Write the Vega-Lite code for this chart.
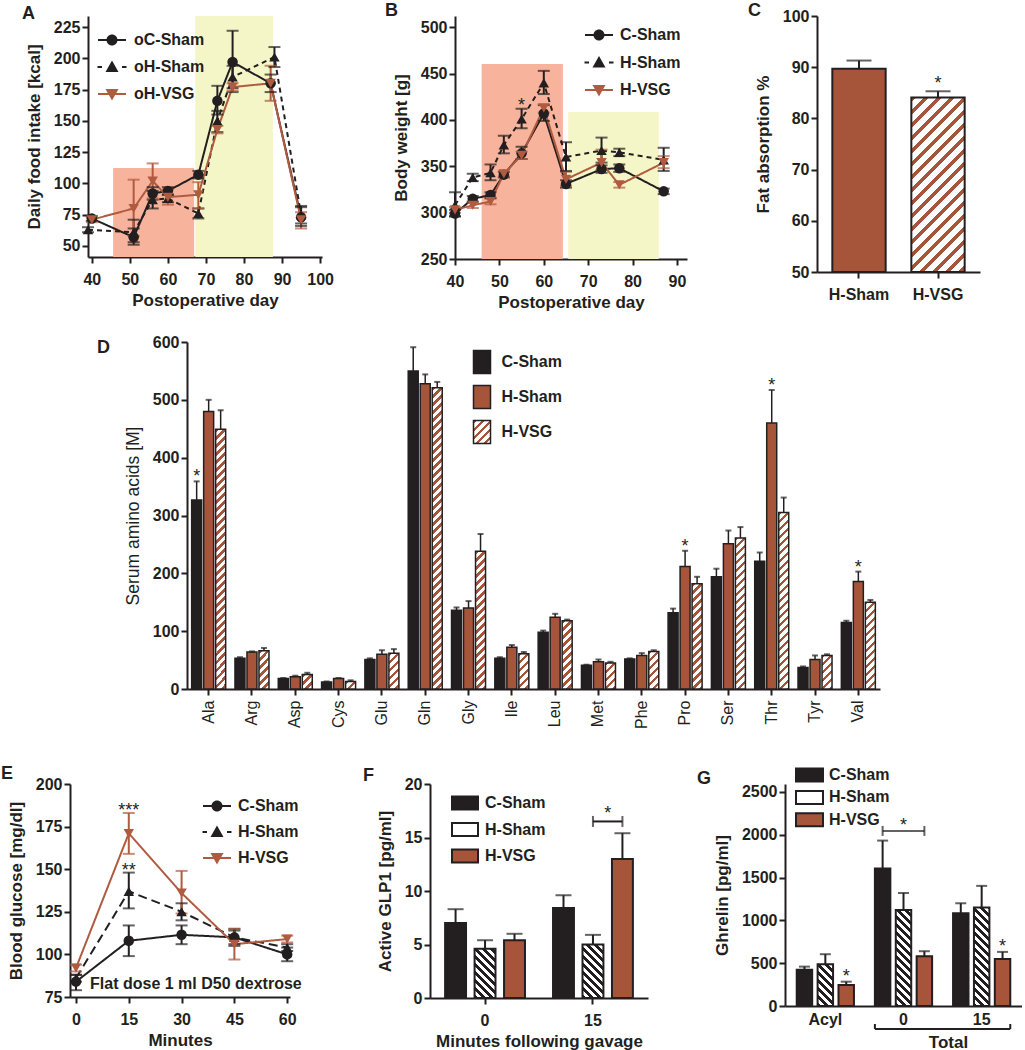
{
"$schema": "https://vega.github.io/schema/vega-lite/v6.json",
"background": "white",
"padding": {"left": 0, "top": 2, "right": 0, "bottom": 0},
"spacing": 10,
"resolve": {"scale": {"color": "independent", "shape": "independent", "strokeDash": "independent", "xOffset": "independent"}, "legend": {"color": "independent"}},
"params": [
{"name": "hatchBrown", "value": [
{"offset":0,"color":"#a6553b"},{"offset":0.01,"color":"#a6553b"},{"offset":0.01,"color":"#fff"},{"offset":0.025,"color":"#fff"},
{"offset":0.025,"color":"#a6553b"},{"offset":0.035,"color":"#a6553b"},{"offset":0.035,"color":"#fff"},{"offset":0.05,"color":"#fff"},
{"offset":0.05,"color":"#a6553b"},{"offset":0.06,"color":"#a6553b"},{"offset":0.06,"color":"#fff"},{"offset":0.075,"color":"#fff"},
{"offset":0.075,"color":"#a6553b"},{"offset":0.085,"color":"#a6553b"},{"offset":0.085,"color":"#fff"},{"offset":0.1,"color":"#fff"},
{"offset":0.1,"color":"#a6553b"},{"offset":0.11,"color":"#a6553b"},{"offset":0.11,"color":"#fff"},{"offset":0.125,"color":"#fff"},
{"offset":0.125,"color":"#a6553b"},{"offset":0.135,"color":"#a6553b"},{"offset":0.135,"color":"#fff"},{"offset":0.15,"color":"#fff"},
{"offset":0.15,"color":"#a6553b"},{"offset":0.16,"color":"#a6553b"},{"offset":0.16,"color":"#fff"},{"offset":0.175,"color":"#fff"},
{"offset":0.175,"color":"#a6553b"},{"offset":0.185,"color":"#a6553b"},{"offset":0.185,"color":"#fff"},{"offset":0.2,"color":"#fff"},
{"offset":0.2,"color":"#a6553b"},{"offset":0.21,"color":"#a6553b"},{"offset":0.21,"color":"#fff"},{"offset":0.225,"color":"#fff"},
{"offset":0.225,"color":"#a6553b"},{"offset":0.235,"color":"#a6553b"},{"offset":0.235,"color":"#fff"},{"offset":0.25,"color":"#fff"},
{"offset":0.25,"color":"#a6553b"},{"offset":0.26,"color":"#a6553b"},{"offset":0.26,"color":"#fff"},{"offset":0.275,"color":"#fff"},
{"offset":0.275,"color":"#a6553b"},{"offset":0.285,"color":"#a6553b"},{"offset":0.285,"color":"#fff"},{"offset":0.3,"color":"#fff"},
{"offset":0.3,"color":"#a6553b"},{"offset":0.31,"color":"#a6553b"},{"offset":0.31,"color":"#fff"},{"offset":0.325,"color":"#fff"},
{"offset":0.325,"color":"#a6553b"},{"offset":0.335,"color":"#a6553b"},{"offset":0.335,"color":"#fff"},{"offset":0.35,"color":"#fff"},
{"offset":0.35,"color":"#a6553b"},{"offset":0.36,"color":"#a6553b"},{"offset":0.36,"color":"#fff"},{"offset":0.375,"color":"#fff"},
{"offset":0.375,"color":"#a6553b"},{"offset":0.385,"color":"#a6553b"},{"offset":0.385,"color":"#fff"},{"offset":0.4,"color":"#fff"},
{"offset":0.4,"color":"#a6553b"},{"offset":0.41,"color":"#a6553b"},{"offset":0.41,"color":"#fff"},{"offset":0.425,"color":"#fff"},
{"offset":0.425,"color":"#a6553b"},{"offset":0.435,"color":"#a6553b"},{"offset":0.435,"color":"#fff"},{"offset":0.45,"color":"#fff"},
{"offset":0.45,"color":"#a6553b"},{"offset":0.46,"color":"#a6553b"},{"offset":0.46,"color":"#fff"},{"offset":0.475,"color":"#fff"},
{"offset":0.475,"color":"#a6553b"},{"offset":0.485,"color":"#a6553b"},{"offset":0.485,"color":"#fff"},{"offset":0.5,"color":"#fff"},
{"offset":0.5,"color":"#a6553b"},{"offset":0.51,"color":"#a6553b"},{"offset":0.51,"color":"#fff"},{"offset":0.525,"color":"#fff"},
{"offset":0.525,"color":"#a6553b"},{"offset":0.535,"color":"#a6553b"},{"offset":0.535,"color":"#fff"},{"offset":0.55,"color":"#fff"},
{"offset":0.55,"color":"#a6553b"},{"offset":0.56,"color":"#a6553b"},{"offset":0.56,"color":"#fff"},{"offset":0.575,"color":"#fff"},
{"offset":0.575,"color":"#a6553b"},{"offset":0.585,"color":"#a6553b"},{"offset":0.585,"color":"#fff"},{"offset":0.6,"color":"#fff"},
{"offset":0.6,"color":"#a6553b"},{"offset":0.61,"color":"#a6553b"},{"offset":0.61,"color":"#fff"},{"offset":0.625,"color":"#fff"},
{"offset":0.625,"color":"#a6553b"},{"offset":0.635,"color":"#a6553b"},{"offset":0.635,"color":"#fff"},{"offset":0.65,"color":"#fff"},
{"offset":0.65,"color":"#a6553b"},{"offset":0.66,"color":"#a6553b"},{"offset":0.66,"color":"#fff"},{"offset":0.675,"color":"#fff"},
{"offset":0.675,"color":"#a6553b"},{"offset":0.685,"color":"#a6553b"},{"offset":0.685,"color":"#fff"},{"offset":0.7,"color":"#fff"},
{"offset":0.7,"color":"#a6553b"},{"offset":0.71,"color":"#a6553b"},{"offset":0.71,"color":"#fff"},{"offset":0.725,"color":"#fff"},
{"offset":0.725,"color":"#a6553b"},{"offset":0.735,"color":"#a6553b"},{"offset":0.735,"color":"#fff"},{"offset":0.75,"color":"#fff"},
{"offset":0.75,"color":"#a6553b"},{"offset":0.76,"color":"#a6553b"},{"offset":0.76,"color":"#fff"},{"offset":0.775,"color":"#fff"},
{"offset":0.775,"color":"#a6553b"},{"offset":0.785,"color":"#a6553b"},{"offset":0.785,"color":"#fff"},{"offset":0.8,"color":"#fff"},
{"offset":0.8,"color":"#a6553b"},{"offset":0.81,"color":"#a6553b"},{"offset":0.81,"color":"#fff"},{"offset":0.825,"color":"#fff"},
{"offset":0.825,"color":"#a6553b"},{"offset":0.835,"color":"#a6553b"},{"offset":0.835,"color":"#fff"},{"offset":0.85,"color":"#fff"},
{"offset":0.85,"color":"#a6553b"},{"offset":0.86,"color":"#a6553b"},{"offset":0.86,"color":"#fff"},{"offset":0.875,"color":"#fff"},
{"offset":0.875,"color":"#a6553b"},{"offset":0.885,"color":"#a6553b"},{"offset":0.885,"color":"#fff"},{"offset":0.9,"color":"#fff"},
{"offset":0.9,"color":"#a6553b"},{"offset":0.91,"color":"#a6553b"},{"offset":0.91,"color":"#fff"},{"offset":0.925,"color":"#fff"},
{"offset":0.925,"color":"#a6553b"},{"offset":0.935,"color":"#a6553b"},{"offset":0.935,"color":"#fff"},{"offset":0.95,"color":"#fff"},
{"offset":0.95,"color":"#a6553b"},{"offset":0.96,"color":"#a6553b"},{"offset":0.96,"color":"#fff"},{"offset":0.975,"color":"#fff"},
{"offset":0.975,"color":"#a6553b"},{"offset":0.985,"color":"#a6553b"},{"offset":0.985,"color":"#fff"},{"offset":1,"color":"#fff"}
]},
{"name": "hatchBlack", "value": [
{"offset":0,"color":"#231f20"},{"offset":0.022,"color":"#231f20"},{"offset":0.022,"color":"#fff"},{"offset":0.05,"color":"#fff"},
{"offset":0.05,"color":"#231f20"},{"offset":0.072,"color":"#231f20"},{"offset":0.072,"color":"#fff"},{"offset":0.1,"color":"#fff"},
{"offset":0.1,"color":"#231f20"},{"offset":0.122,"color":"#231f20"},{"offset":0.122,"color":"#fff"},{"offset":0.15,"color":"#fff"},
{"offset":0.15,"color":"#231f20"},{"offset":0.172,"color":"#231f20"},{"offset":0.172,"color":"#fff"},{"offset":0.2,"color":"#fff"},
{"offset":0.2,"color":"#231f20"},{"offset":0.222,"color":"#231f20"},{"offset":0.222,"color":"#fff"},{"offset":0.25,"color":"#fff"},
{"offset":0.25,"color":"#231f20"},{"offset":0.272,"color":"#231f20"},{"offset":0.272,"color":"#fff"},{"offset":0.3,"color":"#fff"},
{"offset":0.3,"color":"#231f20"},{"offset":0.322,"color":"#231f20"},{"offset":0.322,"color":"#fff"},{"offset":0.35,"color":"#fff"},
{"offset":0.35,"color":"#231f20"},{"offset":0.372,"color":"#231f20"},{"offset":0.372,"color":"#fff"},{"offset":0.4,"color":"#fff"},
{"offset":0.4,"color":"#231f20"},{"offset":0.422,"color":"#231f20"},{"offset":0.422,"color":"#fff"},{"offset":0.45,"color":"#fff"},
{"offset":0.45,"color":"#231f20"},{"offset":0.472,"color":"#231f20"},{"offset":0.472,"color":"#fff"},{"offset":0.5,"color":"#fff"},
{"offset":0.5,"color":"#231f20"},{"offset":0.522,"color":"#231f20"},{"offset":0.522,"color":"#fff"},{"offset":0.55,"color":"#fff"},
{"offset":0.55,"color":"#231f20"},{"offset":0.572,"color":"#231f20"},{"offset":0.572,"color":"#fff"},{"offset":0.6,"color":"#fff"},
{"offset":0.6,"color":"#231f20"},{"offset":0.622,"color":"#231f20"},{"offset":0.622,"color":"#fff"},{"offset":0.65,"color":"#fff"},
{"offset":0.65,"color":"#231f20"},{"offset":0.672,"color":"#231f20"},{"offset":0.672,"color":"#fff"},{"offset":0.7,"color":"#fff"},
{"offset":0.7,"color":"#231f20"},{"offset":0.722,"color":"#231f20"},{"offset":0.722,"color":"#fff"},{"offset":0.75,"color":"#fff"},
{"offset":0.75,"color":"#231f20"},{"offset":0.772,"color":"#231f20"},{"offset":0.772,"color":"#fff"},{"offset":0.8,"color":"#fff"},
{"offset":0.8,"color":"#231f20"},{"offset":0.822,"color":"#231f20"},{"offset":0.822,"color":"#fff"},{"offset":0.85,"color":"#fff"},
{"offset":0.85,"color":"#231f20"},{"offset":0.872,"color":"#231f20"},{"offset":0.872,"color":"#fff"},{"offset":0.9,"color":"#fff"},
{"offset":0.9,"color":"#231f20"},{"offset":0.922,"color":"#231f20"},{"offset":0.922,"color":"#fff"},{"offset":0.95,"color":"#fff"},
{"offset":0.95,"color":"#231f20"},{"offset":0.972,"color":"#231f20"},{"offset":0.972,"color":"#fff"},{"offset":1,"color":"#fff"}
]}
],
"datasets": {
"phasesA": [
{"start":45.6,"end":66.9,"top":112.3,"phase":"early"},
{"start":67.2,"end":87.6,"top":233.8,"phase":"late"}
],
"foodIntake": [
{"day":40,"group":"oC-Sham","mean":72,"lo":70,"hi":74},
{"day":51,"group":"oC-Sham","mean":57,"lo":51,"hi":64},
{"day":56,"group":"oC-Sham","mean":92,"lo":87,"hi":97},
{"day":60,"group":"oC-Sham","mean":94,"lo":91,"hi":97},
{"day":68,"group":"oC-Sham","mean":107,"lo":104,"hi":110},
{"day":73,"group":"oC-Sham","mean":166,"lo":155,"hi":178},
{"day":77,"group":"oC-Sham","mean":197,"lo":173,"hi":222},
{"day":87,"group":"oC-Sham","mean":180,"lo":173,"hi":187},
{"day":95,"group":"oC-Sham","mean":73,"lo":66,"hi":81},
{"day":39,"group":"oH-Sham","mean":63,"lo":61,"hi":65},
{"day":51,"group":"oH-Sham","mean":61,"lo":53,"hi":71},
{"day":56,"group":"oH-Sham","mean":87,"lo":80,"hi":94},
{"day":60,"group":"oH-Sham","mean":88,"lo":85,"hi":91},
{"day":68,"group":"oH-Sham","mean":76,"lo":72,"hi":80},
{"day":73,"group":"oH-Sham","mean":150,"lo":141,"hi":158},
{"day":77,"group":"oH-Sham","mean":185,"lo":176,"hi":194},
{"day":88,"group":"oH-Sham","mean":201,"lo":193,"hi":209},
{"day":95,"group":"oH-Sham","mean":75,"lo":68,"hi":82},
{"day":40,"group":"oH-VSG","mean":71,"lo":69,"hi":73},
{"day":51,"group":"oH-VSG","mean":80,"lo":58,"hi":103},
{"day":56,"group":"oH-VSG","mean":102,"lo":88,"hi":116},
{"day":60,"group":"oH-VSG","mean":89,"lo":83,"hi":95},
{"day":68,"group":"oH-VSG","mean":91,"lo":80,"hi":101},
{"day":73,"group":"oH-VSG","mean":143,"lo":140,"hi":146},
{"day":77,"group":"oH-VSG","mean":177,"lo":174,"hi":180},
{"day":87,"group":"oH-VSG","mean":180,"lo":166,"hi":194},
{"day":95,"group":"oH-VSG","mean":71,"lo":64,"hi":77}
],
"phasesB": [
{"start":46,"end":64.3,"top":460.4,"phase":"early"},
{"start":65.5,"end":85.9,"top":408.6,"phase":"late"}
],
"bodyWeight": [
{"day":40,"group":"C-Sham","mean":299,"lo":296,"hi":303},
{"day":44,"group":"C-Sham","mean":315,"lo":312,"hi":318},
{"day":48,"group":"C-Sham","mean":319,"lo":316,"hi":322},
{"day":51,"group":"C-Sham","mean":341,"lo":338,"hi":344},
{"day":55,"group":"C-Sham","mean":364,"lo":358,"hi":371},
{"day":60,"group":"C-Sham","mean":407,"lo":399,"hi":416},
{"day":65,"group":"C-Sham","mean":331,"lo":327,"hi":335},
{"day":73,"group":"C-Sham","mean":347,"lo":343,"hi":351},
{"day":77,"group":"C-Sham","mean":348,"lo":344,"hi":352},
{"day":87,"group":"C-Sham","mean":323,"lo":320,"hi":326},
{"day":40,"group":"H-Sham","mean":308,"lo":296,"hi":322},
{"day":44,"group":"H-Sham","mean":338,"lo":334,"hi":342},
{"day":48,"group":"H-Sham","mean":343,"lo":335,"hi":352},
{"day":51,"group":"H-Sham","mean":373,"lo":364,"hi":383},
{"day":55,"group":"H-Sham","mean":401,"lo":391,"hi":412,"star":"*"},
{"day":60,"group":"H-Sham","mean":440,"lo":428,"hi":453},
{"day":65,"group":"H-Sham","mean":360,"lo":345,"hi":376},
{"day":73,"group":"H-Sham","mean":367,"lo":354,"hi":381},
{"day":77,"group":"H-Sham","mean":365,"lo":361,"hi":369},
{"day":87,"group":"H-Sham","mean":357,"lo":345,"hi":370},
{"day":40,"group":"H-VSG","mean":303,"lo":300,"hi":306},
{"day":44,"group":"H-VSG","mean":308,"lo":305,"hi":311},
{"day":48,"group":"H-VSG","mean":312,"lo":309,"hi":315},
{"day":51,"group":"H-VSG","mean":342,"lo":339,"hi":345},
{"day":55,"group":"H-VSG","mean":362,"lo":358,"hi":366},
{"day":60,"group":"H-VSG","mean":413,"lo":408,"hi":417},
{"day":65,"group":"H-VSG","mean":336,"lo":329,"hi":344},
{"day":73,"group":"H-VSG","mean":354,"lo":346,"hi":368},
{"day":77,"group":"H-VSG","mean":330,"lo":327,"hi":333},
{"day":87,"group":"H-VSG","mean":354,"lo":348,"hi":361}
],
"fat": [
{"group":"H-Sham","mean":89.7,"hi":91.3},
{"group":"H-VSG","mean":84.1,"hi":85.3,"star":"*"}
],
"amino": [
{"aa":"Ala","group":"C-Sham","mean":327,"hi":359,"star":"*"},{"aa":"Ala","group":"H-Sham","mean":480,"hi":500},{"aa":"Ala","group":"H-VSG","mean":449,"hi":482},
{"aa":"Arg","group":"C-Sham","mean":53,"hi":55},{"aa":"Arg","group":"H-Sham","mean":64,"hi":65},{"aa":"Arg","group":"H-VSG","mean":66,"hi":71},
{"aa":"Asp","group":"C-Sham","mean":18,"hi":19},{"aa":"Asp","group":"H-Sham","mean":21,"hi":23},{"aa":"Asp","group":"H-VSG","mean":25,"hi":28},
{"aa":"Cys","group":"C-Sham","mean":12,"hi":13},{"aa":"Cys","group":"H-Sham","mean":18,"hi":19},{"aa":"Cys","group":"H-VSG","mean":13,"hi":15},
{"aa":"Glu","group":"C-Sham","mean":51,"hi":53},{"aa":"Glu","group":"H-Sham","mean":60,"hi":67},{"aa":"Glu","group":"H-VSG","mean":62,"hi":69},
{"aa":"Gln","group":"C-Sham","mean":550,"hi":591},{"aa":"Gln","group":"H-Sham","mean":528,"hi":544},{"aa":"Gln","group":"H-VSG","mean":521,"hi":531},
{"aa":"Gly","group":"C-Sham","mean":136,"hi":141},{"aa":"Gly","group":"H-Sham","mean":140,"hi":152},{"aa":"Gly","group":"H-VSG","mean":238,"hi":268},
{"aa":"Ile","group":"C-Sham","mean":53,"hi":55},{"aa":"Ile","group":"H-Sham","mean":72,"hi":76},{"aa":"Ile","group":"H-VSG","mean":61,"hi":64},
{"aa":"Leu","group":"C-Sham","mean":98,"hi":101},{"aa":"Leu","group":"H-Sham","mean":124,"hi":130},{"aa":"Leu","group":"H-VSG","mean":118,"hi":120},
{"aa":"Met","group":"C-Sham","mean":41,"hi":42},{"aa":"Met","group":"H-Sham","mean":47,"hi":51},{"aa":"Met","group":"H-VSG","mean":45,"hi":47},
{"aa":"Phe","group":"C-Sham","mean":52,"hi":53},{"aa":"Phe","group":"H-Sham","mean":58,"hi":62},{"aa":"Phe","group":"H-VSG","mean":65,"hi":67},
{"aa":"Pro","group":"C-Sham","mean":132,"hi":139},{"aa":"Pro","group":"H-Sham","mean":212,"hi":239,"star":"*"},{"aa":"Pro","group":"H-VSG","mean":182,"hi":194},
{"aa":"Ser","group":"C-Sham","mean":194,"hi":208},{"aa":"Ser","group":"H-Sham","mean":251,"hi":274},{"aa":"Ser","group":"H-VSG","mean":261,"hi":280},
{"aa":"Thr","group":"C-Sham","mean":221,"hi":236},{"aa":"Thr","group":"H-Sham","mean":460,"hi":517,"star":"*"},{"aa":"Thr","group":"H-VSG","mean":305,"hi":331},
{"aa":"Tyr","group":"C-Sham","mean":37,"hi":39},{"aa":"Tyr","group":"H-Sham","mean":51,"hi":58},{"aa":"Tyr","group":"H-VSG","mean":58,"hi":60},
{"aa":"Val","group":"C-Sham","mean":115,"hi":118},{"aa":"Val","group":"H-Sham","mean":186,"hi":203,"star":"*"},{"aa":"Val","group":"H-VSG","mean":150,"hi":154}
],
"glucose": [
{"minute":0,"group":"C-Sham","mean":84,"lo":79,"hi":88},
{"minute":15,"group":"C-Sham","mean":108,"lo":99,"hi":117},
{"minute":30,"group":"C-Sham","mean":111.5,"lo":106,"hi":117},
{"minute":45,"group":"C-Sham","mean":110,"lo":105,"hi":115},
{"minute":60,"group":"C-Sham","mean":100,"lo":96,"hi":104},
{"minute":0,"group":"H-Sham","mean":86,"lo":84,"hi":88},
{"minute":15,"group":"H-Sham","mean":137,"lo":127,"hi":148,"star":"**"},
{"minute":30,"group":"H-Sham","mean":125,"lo":120,"hi":130},
{"minute":45,"group":"H-Sham","mean":110,"lo":106,"hi":114},
{"minute":60,"group":"H-Sham","mean":104,"lo":102,"hi":106},
{"minute":0,"group":"H-VSG","mean":92,"lo":90,"hi":94},
{"minute":15,"group":"H-VSG","mean":171,"lo":159,"hi":183,"star":"***"},
{"minute":30,"group":"H-VSG","mean":136,"lo":124,"hi":149},
{"minute":45,"group":"H-VSG","mean":106,"lo":97,"hi":115},
{"minute":60,"group":"H-VSG","mean":109,"lo":107,"hi":111}
],
"eNote": [{"note":"Flat dose 1 ml D50 dextrose"}],
"glp1": [
{"time":"0","group":"C-Sham","mean":7.0,"hi":8.3},
{"time":"0","group":"H-Sham","mean":4.6,"hi":5.4},
{"time":"0","group":"H-VSG","mean":5.4,"hi":6.0},
{"time":"15","group":"C-Sham","mean":8.4,"hi":9.6},
{"time":"15","group":"H-Sham","mean":5.0,"hi":5.9},
{"time":"15","group":"H-VSG","mean":13.0,"hi":15.4}
],
"fBracket": [{"time":"15","from":"H-Sham","to":"H-VSG","level":16.5,"label":"*"}],
"ghrelin": [
{"cat":"Acyl","group":"C-Sham","mean":422,"hi":460},
{"cat":"Acyl","group":"H-Sham","mean":487,"hi":605},
{"cat":"Acyl","group":"H-VSG","mean":245,"hi":284,"star":"*"},
{"cat":"0","group":"C-Sham","mean":1605,"hi":1932},
{"cat":"0","group":"H-Sham","mean":1121,"hi":1320},
{"cat":"0","group":"H-VSG","mean":580,"hi":640},
{"cat":"15","group":"C-Sham","mean":1083,"hi":1200},
{"cat":"15","group":"H-Sham","mean":1150,"hi":1403},
{"cat":"15","group":"H-VSG","mean":548,"hi":632,"star":"*"}
],
"gBracket": [{"cat":"0","from":"C-Sham","mid":"H-Sham","to":"H-VSG","level":2045,"label":"*"}]
},
"vconcat": [
{"bounds": "flush", "spacing": 0,
 "resolve": {"scale": {"color": "independent", "shape": "independent", "strokeDash": "independent", "xOffset": "independent"}, "legend": {"color": "independent"}},
 "hconcat": [
{"width": 88, "height": 308, "data": {"values": []}, "mark": {"type": "point", "opacity": 0}},
{"width": 234, "height": 241, "title": {"text": "A", "dx": -66, "dy": 11},
 "layer": [
  {"data": {"name": "phasesA"}, "mark": {"type": "rect", "clip": true},
   "encoding": {
    "x": {"field": "start", "type": "quantitative", "title": "Postoperative day", "scale": {"domain": [39, 100.5], "nice": false, "zero": false}, "axis": {"values": [40,50,60,70,80,90,100], "labelOverlap": false}},
    "x2": {"field": "end"},
    "y": {"field": "top", "type": "quantitative", "title": "Daily food intake [kcal]", "scale": {"domain": [41.2, 233.8], "nice": false, "zero": false}, "axis": {"values": [50,75,100,125,150,175,200,225], "labelOverlap": false}},
    "y2": {"datum": 41.2},
    "fill": {"field": "phase", "type": "nominal", "scale": {"domain": ["early","late"], "range": ["#f7b39c","#f4f6c8"]}, "legend": null}
   }},
  {"data": {"name": "foodIntake"}, "mark": {"type": "line", "strokeWidth": 2},
   "encoding": {
    "x": {"field": "day", "type": "quantitative", "title": "Postoperative day", "axis": {"values": [40,50,60,70,80,90,100], "labelOverlap": false}},
    "y": {"field": "mean", "type": "quantitative", "title": "Daily food intake [kcal]", "axis": {"values": [50,75,100,125,150,175,200,225], "labelOverlap": false}},
    "color": {"field": "group", "type": "nominal", "scale": {"domain": ["oC-Sham","oH-Sham","oH-VSG"], "range": ["#231f20","#231f20","#b05b40"]}},
    "strokeDash": {"field": "group", "type": "nominal", "scale": {"domain": ["oH-Sham","oC-Sham","oH-VSG"], "range": [[5,4],[1,0],[1,0]]}, "legend": null}
   }},
  {"data": {"name": "foodIntake"}, "mark": {"type": "rule", "strokeWidth": 2},
   "encoding": {
    "x": {"field": "day", "type": "quantitative", "title": "Postoperative day", "axis": {"values": [40,50,60,70,80,90,100], "labelOverlap": false}},
    "y": {"field": "lo", "type": "quantitative", "title": "Daily food intake [kcal]", "axis": {"values": [50,75,100,125,150,175,200,225], "labelOverlap": false}},
    "y2": {"field": "hi"},
    "color": {"field": "group", "type": "nominal"}
   }},
  {"data": {"name": "foodIntake"}, "mark": {"type": "tick", "orient": "horizontal", "size": 12, "thickness": 2},
   "encoding": {
    "x": {"field": "day", "type": "quantitative", "title": "Postoperative day", "axis": {"values": [40,50,60,70,80,90,100], "labelOverlap": false}},
    "y": {"field": "hi", "type": "quantitative", "title": "Daily food intake [kcal]", "axis": {"values": [50,75,100,125,150,175,200,225], "labelOverlap": false}},
    "color": {"field": "group", "type": "nominal"}
   }},
  {"data": {"name": "foodIntake"}, "mark": {"type": "tick", "orient": "horizontal", "size": 12, "thickness": 2},
   "encoding": {
    "x": {"field": "day", "type": "quantitative", "title": "Postoperative day", "axis": {"values": [40,50,60,70,80,90,100], "labelOverlap": false}},
    "y": {"field": "lo", "type": "quantitative", "title": "Daily food intake [kcal]", "axis": {"values": [50,75,100,125,150,175,200,225], "labelOverlap": false}},
    "color": {"field": "group", "type": "nominal"}
   }},
  {"data": {"name": "foodIntake"}, "mark": {"type": "point", "filled": true, "size": 110, "opacity": 1},
   "encoding": {
    "x": {"field": "day", "type": "quantitative", "title": "Postoperative day", "axis": {"values": [40,50,60,70,80,90,100], "labelOverlap": false}},
    "y": {"field": "mean", "type": "quantitative", "title": "Daily food intake [kcal]", "axis": {"values": [50,75,100,125,150,175,200,225], "labelOverlap": false}},
    "shape": {"field": "group", "type": "nominal", "scale": {"domain": ["oH-VSG","oC-Sham","oH-Sham"], "range": ["triangle-down","circle","triangle-up"]}, "legend": null},
    "color": {"field": "group", "type": "nominal", "legend": {"title": null, "orient": "none", "legendX": 16, "legendY": 16, "labelOffset": 14, "rowPadding": 11, "symbolSize": 100, "symbolStrokeWidth": 0,
      "encode": {"symbols": {"update": {
        "shape": {"signal": "datum.index===0 ? 'M-2.8,-0.2H2.8V0.2H-2.8Z M1.1,0A1.1,1.1,0,1,1,-1.1,0A1.1,1.1,0,1,1,1.1,0Z' : datum.index===1 ? 'M-2.9,-0.2H-2V0.2H-2.9Z M2,-0.2H2.9V0.2H2Z M0,-1.3L1.3,1L-1.3,1Z' : 'M-2.8,-0.2H2.8V0.2H-2.8Z M0,1.3L-1.3,-1L1.3,-1Z'"},
        "fill": {"signal": "datum.index===2 ? '#b05b40' : '#231f20'"},
        "strokeWidth": {"value": 0},
        "opacity": {"value": 1}}}}}}
   }}
 ]},
{"width": 133, "height": 1, "data": {"values": []}, "mark": {"type": "point", "opacity": 0}},
{"width": 232, "height": 243, "title": {"text": "B", "dx": -70, "dy": 8},
 "layer": [
  {"data": {"name": "phasesB"}, "mark": {"type": "rect", "clip": true},
   "encoding": {
    "x": {"field": "start", "type": "quantitative", "title": "Postoperative day", "scale": {"domain": [40, 92.25], "nice": false, "zero": false}, "axis": {"values": [40,50,60,70,80,90], "labelOverlap": false}},
    "x2": {"field": "end"},
    "y": {"field": "top", "type": "quantitative", "title": "Body weight [g]", "scale": {"domain": [250, 512.2], "nice": false, "zero": false}, "axis": {"values": [250,300,350,400,450,500], "labelOverlap": false}},
    "y2": {"datum": 250},
    "fill": {"field": "phase", "type": "nominal", "scale": {"domain": ["early","late"], "range": ["#f7b39c","#f4f6c8"]}, "legend": null}
   }},
  {"data": {"name": "bodyWeight"}, "mark": {"type": "line", "strokeWidth": 2},
   "encoding": {
    "x": {"field": "day", "type": "quantitative", "title": "Postoperative day", "axis": {"values": [40,50,60,70,80,90], "labelOverlap": false}},
    "y": {"field": "mean", "type": "quantitative", "title": "Body weight [g]", "axis": {"values": [250,300,350,400,450,500], "labelOverlap": false}},
    "color": {"field": "group", "type": "nominal", "scale": {"domain": ["C-Sham","H-Sham","H-VSG"], "range": ["#231f20","#231f20","#b05b40"]}},
    "strokeDash": {"field": "group", "type": "nominal", "scale": {"domain": ["H-Sham","C-Sham","H-VSG"], "range": [[5,4],[1,0],[1,0]]}, "legend": null}
   }},
  {"data": {"name": "bodyWeight"}, "mark": {"type": "rule", "strokeWidth": 2},
   "encoding": {
    "x": {"field": "day", "type": "quantitative", "title": "Postoperative day"},
    "y": {"field": "lo", "type": "quantitative", "title": "Body weight [g]"},
    "y2": {"field": "hi"},
    "color": {"field": "group", "type": "nominal"}
   }},
  {"data": {"name": "bodyWeight"}, "mark": {"type": "tick", "orient": "horizontal", "size": 12, "thickness": 2},
   "encoding": {
    "x": {"field": "day", "type": "quantitative", "title": "Postoperative day"},
    "y": {"field": "hi", "type": "quantitative", "title": "Body weight [g]"},
    "color": {"field": "group", "type": "nominal"}
   }},
  {"data": {"name": "bodyWeight"}, "mark": {"type": "tick", "orient": "horizontal", "size": 12, "thickness": 2},
   "encoding": {
    "x": {"field": "day", "type": "quantitative", "title": "Postoperative day"},
    "y": {"field": "lo", "type": "quantitative", "title": "Body weight [g]"},
    "color": {"field": "group", "type": "nominal"}
   }},
  {"data": {"name": "bodyWeight"}, "mark": {"type": "point", "filled": true, "size": 110, "opacity": 1},
   "encoding": {
    "x": {"field": "day", "type": "quantitative", "title": "Postoperative day"},
    "y": {"field": "mean", "type": "quantitative", "title": "Body weight [g]"},
    "shape": {"field": "group", "type": "nominal", "scale": {"domain": ["H-VSG","C-Sham","H-Sham"], "range": ["triangle-down","circle","triangle-up"]}, "legend": null},
    "color": {"field": "group", "type": "nominal", "legend": {"title": null, "orient": "none", "legendX": 136, "legendY": 11, "labelOffset": 13, "rowPadding": 11.5, "symbolSize": 100, "symbolStrokeWidth": 0,
      "encode": {"symbols": {"update": {
        "shape": {"signal": "datum.index===0 ? 'M-2.8,-0.2H2.8V0.2H-2.8Z M1.1,0A1.1,1.1,0,1,1,-1.1,0A1.1,1.1,0,1,1,1.1,0Z' : datum.index===1 ? 'M-2.9,-0.2H-2V0.2H-2.9Z M2,-0.2H2.9V0.2H2Z M0,-1.3L1.3,1L-1.3,1Z' : 'M-2.8,-0.2H2.8V0.2H-2.8Z M0,1.3L-1.3,-1L1.3,-1Z'"},
        "fill": {"signal": "datum.index===2 ? '#b05b40' : '#231f20'"},
        "strokeWidth": {"value": 0},
        "opacity": {"value": 1}}}}}}
   }},
  {"data": {"name": "bodyWeight"}, "transform": [{"filter": "isValid(datum.star)"}], "mark": {"type": "text", "fontSize": 18, "baseline": "alphabetic", "dy": 2, "color": "#231f20"},
   "encoding": {
    "x": {"field": "day", "type": "quantitative", "title": "Postoperative day"},
    "y": {"field": "hi", "type": "quantitative", "title": "Body weight [g]"},
    "text": {"field": "star"}
   }}
 ]},
{"width": 130, "height": 1, "data": {"values": []}, "mark": {"type": "point", "opacity": 0}},
{"width": 163, "height": 256, "title": {"text": "C", "dx": -69, "dy": 16}, "data": {"name": "fat"},
 "layer": [
  {"transform": [{"filter": "datum.group === 'H-Sham'"}], "mark": {"type": "bar", "fill": "#a6553b", "stroke": "#231f20", "strokeWidth": 2},
   "encoding": {
    "x": {"field": "group", "type": "nominal", "title": null, "scale": {"domain": ["H-Sham","H-VSG"], "paddingInner": 0.325, "paddingOuter": 0.194}, "axis": {"labelAngle": 0}},
    "y": {"field": "mean", "type": "quantitative", "title": "Fat absorption %", "scale": {"domain": [50, 100], "nice": false, "zero": false}, "axis": {"values": [50,60,70,80,90,100], "labelOverlap": false}},
    "y2": {"datum": 50}
   }},
  {"transform": [{"filter": "datum.group === 'H-VSG'"}], "mark": {"type": "bar", "fill": {"expr": "{gradient: 'linear', x1: 0, y1: 0, x2: 0.8317, y2: 2.7244, stops: hatchBrown}"}, "stroke": "#231f20", "strokeWidth": 2},
   "encoding": {
    "x": {"field": "group", "type": "nominal", "title": null},
    "y": {"field": "mean", "type": "quantitative", "title": "Fat absorption %"},
    "y2": {"datum": 50}
   }},
  {"mark": {"type": "rule", "strokeWidth": 2, "color": "#231f20"},
   "encoding": {
    "x": {"field": "group", "type": "nominal", "title": null},
    "y": {"field": "mean", "type": "quantitative", "title": "Fat absorption %"},
    "y2": {"field": "hi"}
   }},
  {"mark": {"type": "tick", "orient": "horizontal", "size": 25, "thickness": 2, "color": "#231f20"},
   "encoding": {
    "x": {"field": "group", "type": "nominal", "title": null},
    "y": {"field": "hi", "type": "quantitative", "title": "Fat absorption %"}
   }},
  {"transform": [{"filter": "isValid(datum.star)"}], "mark": {"type": "text", "fontSize": 18, "baseline": "alphabetic", "dy": -2, "color": "#231f20"},
   "encoding": {
    "x": {"field": "group", "type": "nominal", "title": null},
    "y": {"field": "hi", "type": "quantitative", "title": "Fat absorption %"},
    "text": {"field": "star"}
   }}
 ]}
]},
{"bounds": "flush", "spacing": 0,
 "resolve": {"scale": {"color": "independent", "shape": "independent", "strokeDash": "independent", "xOffset": "independent"}, "legend": {"color": "independent"}},
 "hconcat": [
{"width": 187, "height": 412, "data": {"values": []}, "mark": {"type": "point", "opacity": 0}},
{"width": 693, "height": 347, "title": {"text": "D", "dx": -90, "dy": 27}, "data": {"name": "amino"},
 "layer": [
  {"transform": [{"filter": "datum.group !== 'H-VSG'"}], "mark": {"type": "bar", "stroke": "#231f20", "strokeWidth": 1.5},
   "encoding": {
    "x": {"field": "aa", "type": "nominal", "title": null, "scale": {"domain": ["Ala","Arg","Asp","Cys","Glu","Gln","Gly","Ile","Leu","Met","Phe","Pro","Ser","Thr","Tyr","Val"], "paddingInner": 0.215, "paddingOuter": 0.1075}, "axis": {"labelAngle": -90, "labelFontWeight": "normal", "labelPadding": 5}},
    "xOffset": {"field": "group", "type": "nominal", "scale": {"domain": ["C-Sham","H-Sham","H-VSG"], "paddingInner": 0.167, "paddingOuter": 0}},
    "y": {"field": "mean", "type": "quantitative", "title": "Serum amino acids [M]", "scale": {"domain": [0, 600], "nice": false}, "axis": {"values": [0,100,200,300,400,500,600], "labelOverlap": false, "titleFontWeight": "normal", "titleFontSize": 17.5}},
    "color": {"field": "group", "type": "nominal", "scale": {"domain": ["C-Sham","H-Sham","H-VSG"], "range": ["#231f20","#a6553b",{"expr": "{gradient: 'linear', x1: 0, y1: 0, x2: 6.65, y2: 9.0, stops: hatchBrown}"}]},
     "legend": {"title": null, "orient": "none", "legendX": 284, "legendY": 9, "labelOffset": 8.5, "rowPadding": 5, "symbolSize": 400, "symbolType": "M-0.85,-1.15H0.85V1.15H-0.85Z", "symbolStrokeColor": "#231f20", "symbolStrokeWidth": 1.5,
      "encode": {"symbols": {"update": {
        "stroke": {"value": "#231f20"}, "strokeWidth": {"value": 1.5}, "opacity": {"value": 1}}}}}}
   }},
  {"transform": [{"filter": "datum.group === 'H-VSG'"}], "mark": {"type": "bar", "stroke": "#231f20", "strokeWidth": 1.5,
     "fill": {"expr": "{gradient: 'linear', x1: 0, y1: 0, x2: 3200 / (100 + pow(datum.mean * 0.5783, 2)), y2: 320 * datum.mean * 0.5783 / (100 + pow(datum.mean * 0.5783, 2)), stops: hatchBrown}"}},
   "encoding": {
    "x": {"field": "aa", "type": "nominal", "title": null},
    "xOffset": {"field": "group", "type": "nominal"},
    "y": {"field": "mean", "type": "quantitative", "title": "Serum amino acids [M]"}
   }},
  {"mark": {"type": "rule", "strokeWidth": 1.5, "color": "#231f20"},
   "encoding": {
    "x": {"field": "aa", "type": "nominal", "title": null},
    "xOffset": {"field": "group", "type": "nominal"},
    "y": {"field": "mean", "type": "quantitative", "title": "Serum amino acids [M]"},
    "y2": {"field": "hi"}
   }},
  {"mark": {"type": "tick", "orient": "horizontal", "size": 6, "thickness": 2, "color": "#231f20"},
   "encoding": {
    "x": {"field": "aa", "type": "nominal", "title": null},
    "xOffset": {"field": "group", "type": "nominal"},
    "y": {"field": "hi", "type": "quantitative", "title": "Serum amino acids [M]"}
   }},
  {"transform": [{"filter": "isValid(datum.star)"}], "mark": {"type": "text", "fontSize": 18, "baseline": "alphabetic", "dy": 1, "color": "#231f20"},
   "encoding": {
    "x": {"field": "aa", "type": "nominal", "title": null},
    "xOffset": {"field": "group", "type": "nominal"},
    "y": {"field": "hi", "type": "quantitative", "title": "Serum amino acids [M]"},
    "text": {"field": "star"}
   }}
 ]}
]},
{"bounds": "flush", "spacing": 0,
 "resolve": {"scale": {"color": "independent", "shape": "independent", "strokeDash": "independent", "xOffset": "independent"}, "legend": {"color": "independent"}},
 "hconcat": [
{"width": 70, "height": 1, "data": {"values": []}, "mark": {"type": "point", "opacity": 0}},
{"width": 220, "height": 213, "title": {"text": "E", "dx": -69, "dy": 11}, "data": {"name": "glucose"},
 "layer": [
  {"mark": {"type": "line", "strokeWidth": 2},
   "encoding": {
    "x": {"field": "minute", "type": "quantitative", "title": "Minutes", "scale": {"domain": [-1.7, 60.8], "nice": false, "zero": false}, "axis": {"values": [0,15,30,45,60], "labelOverlap": false}},
    "y": {"field": "mean", "type": "quantitative", "title": "Blood glucose [mg/dl]", "scale": {"domain": [75, 200], "nice": false, "zero": false}, "axis": {"values": [75,100,125,150,175,200], "labelOverlap": false}},
    "color": {"field": "group", "type": "nominal", "scale": {"domain": ["C-Sham","H-Sham","H-VSG"], "range": ["#231f20","#231f20","#b05b40"]}},
    "strokeDash": {"field": "group", "type": "nominal", "scale": {"domain": ["H-Sham","C-Sham","H-VSG"], "range": [[9,5],[1,0],[1,0]]}, "legend": null}
   }},
  {"mark": {"type": "rule", "strokeWidth": 2},
   "encoding": {
    "x": {"field": "minute", "type": "quantitative", "title": "Minutes"},
    "y": {"field": "lo", "type": "quantitative", "title": "Blood glucose [mg/dl]"},
    "y2": {"field": "hi"},
    "color": {"field": "group", "type": "nominal"}
   }},
  {"mark": {"type": "tick", "orient": "horizontal", "size": 12, "thickness": 2},
   "encoding": {
    "x": {"field": "minute", "type": "quantitative", "title": "Minutes"},
    "y": {"field": "hi", "type": "quantitative", "title": "Blood glucose [mg/dl]"},
    "color": {"field": "group", "type": "nominal"}
   }},
  {"mark": {"type": "tick", "orient": "horizontal", "size": 12, "thickness": 2},
   "encoding": {
    "x": {"field": "minute", "type": "quantitative", "title": "Minutes"},
    "y": {"field": "lo", "type": "quantitative", "title": "Blood glucose [mg/dl]"},
    "color": {"field": "group", "type": "nominal"}
   }},
  {"mark": {"type": "point", "filled": true, "size": 110, "opacity": 1},
   "encoding": {
    "x": {"field": "minute", "type": "quantitative", "title": "Minutes"},
    "y": {"field": "mean", "type": "quantitative", "title": "Blood glucose [mg/dl]"},
    "shape": {"field": "group", "type": "nominal", "scale": {"domain": ["H-VSG","C-Sham","H-Sham"], "range": ["triangle-down","circle","triangle-up"]}, "legend": null},
    "color": {"field": "group", "type": "nominal", "legend": {"title": null, "orient": "none", "legendX": 139, "legendY": 14, "labelOffset": 13, "rowPadding": 10, "symbolSize": 100, "symbolStrokeWidth": 0,
      "encode": {"symbols": {"update": {
        "shape": {"signal": "datum.index===0 ? 'M-2.8,-0.2H2.8V0.2H-2.8Z M1.1,0A1.1,1.1,0,1,1,-1.1,0A1.1,1.1,0,1,1,1.1,0Z' : datum.index===1 ? 'M-2.9,-0.2H-2V0.2H-2.9Z M2,-0.2H2.9V0.2H2Z M0,-1.3L1.3,1L-1.3,1Z' : 'M-2.8,-0.2H2.8V0.2H-2.8Z M0,1.3L-1.3,-1L1.3,-1Z'"},
        "fill": {"signal": "datum.index===2 ? '#b05b40' : '#231f20'"},
        "strokeWidth": {"value": 0},
        "opacity": {"value": 1}}}}}}
   }},
  {"transform": [{"filter": "isValid(datum.star)"}], "mark": {"type": "text", "fontSize": 18, "baseline": "alphabetic", "dy": 3, "color": "#231f20"},
   "encoding": {
    "x": {"field": "minute", "type": "quantitative", "title": "Minutes"},
    "y": {"field": "hi", "type": "quantitative", "title": "Blood glucose [mg/dl]"},
    "text": {"field": "star"}
   }},
  {"data": {"name": "eNote"}, "mark": {"type": "text", "fontSize": 16, "fontWeight": "bold", "align": "left", "baseline": "alphabetic", "color": "#231f20"},
   "encoding": {
    "x": {"datum": 4, "type": "quantitative", "title": "Minutes"},
    "y": {"datum": 79.9, "type": "quantitative", "title": "Blood glucose [mg/dl]"},
    "text": {"field": "note"}
   }}
 ]},
{"width": 140, "height": 1, "data": {"values": []}, "mark": {"type": "point", "opacity": 0}},
{"width": 218, "height": 214, "title": {"text": "F", "dx": -67, "dy": 13}, "data": {"name": "glp1"},
 "layer": [
  {"transform": [{"filter": "datum.group !== 'H-Sham'"}], "mark": {"type": "bar", "stroke": "#231f20", "strokeWidth": 2},
   "encoding": {
    "x": {"field": "time", "type": "nominal", "title": "Minutes following gavage", "scale": {"domain": ["0","15"], "paddingInner": 0.26, "paddingOuter": 0.14}, "axis": {"labelAngle": 0}},
    "xOffset": {"field": "group", "type": "nominal", "scale": {"domain": ["C-Sham","H-Sham","H-VSG"], "paddingInner": 0.29, "paddingOuter": 0}},
    "y": {"field": "mean", "type": "quantitative", "title": "Active GLP1 [pg/ml]", "scale": {"domain": [0, 20], "nice": false}, "axis": {"values": [0,5,10,15,20], "labelOverlap": false}},
    "color": {"field": "group", "type": "nominal", "scale": {"domain": ["C-Sham","H-Sham","H-VSG"], "range": ["#231f20","#ffffff","#a6553b"]},
     "legend": {"title": null, "orient": "none", "legendX": 24, "legendY": 8, "labelOffset": 9, "rowPadding": 4.5, "symbolSize": 400, "symbolType": "M-1.3,-0.65H1.3V0.65H-1.3Z", "symbolStrokeColor": "#231f20", "symbolStrokeWidth": 2,
      "encode": {"symbols": {"update": {
        "fill": {"signal": "datum.index===1 ? {gradient: 'linear', x1: 0, y1: 1, x2: 4.923, y2: -1.462, stops: hatchBlack} : datum.index===2 ? '#a6553b' : '#231f20'"},
        "stroke": {"value": "#231f20"}, "strokeWidth": {"value": 2}, "opacity": {"value": 1}}}}}}
   }},
  {"transform": [{"filter": "datum.group === 'H-Sham'"}], "mark": {"type": "bar", "stroke": "#231f20", "strokeWidth": 2,
     "fill": {"expr": "{gradient: 'linear', x1: 0, y1: 1, x2: 3344 / (437 + pow(datum.mean * 10.7, 2)), y2: 1 - 1712 * datum.mean / (437 + pow(datum.mean * 10.7, 2)), stops: hatchBlack}"}},
   "encoding": {
    "x": {"field": "time", "type": "nominal", "title": "Minutes following gavage"},
    "xOffset": {"field": "group", "type": "nominal"},
    "y": {"field": "mean", "type": "quantitative", "title": "Active GLP1 [pg/ml]"}
   }},
  {"mark": {"type": "rule", "strokeWidth": 2, "color": "#231f20"},
   "encoding": {
    "x": {"field": "time", "type": "nominal", "title": "Minutes following gavage"},
    "xOffset": {"field": "group", "type": "nominal"},
    "y": {"field": "mean", "type": "quantitative", "title": "Active GLP1 [pg/ml]"},
    "y2": {"field": "hi"}
   }},
  {"mark": {"type": "tick", "orient": "horizontal", "size": 16, "thickness": 2, "color": "#231f20"},
   "encoding": {
    "x": {"field": "time", "type": "nominal", "title": "Minutes following gavage"},
    "xOffset": {"field": "group", "type": "nominal"},
    "y": {"field": "hi", "type": "quantitative", "title": "Active GLP1 [pg/ml]"}
   }},
  {"data": {"name": "fBracket"}, "mark": {"type": "rule", "strokeWidth": 2, "color": "#231f20"},
   "encoding": {
    "x": {"field": "time", "type": "nominal", "bandPosition": 0.5, "title": "Minutes following gavage"},
    "x2": {"field": "time", "bandPosition": 0.869},
    "y": {"field": "level", "type": "quantitative", "title": "Active GLP1 [pg/ml]"}
   }},
  {"data": {"name": "fBracket"}, "mark": {"type": "tick", "orient": "vertical", "size": 11, "thickness": 2, "color": "#231f20"},
   "encoding": {
    "x": {"field": "time", "type": "nominal", "title": "Minutes following gavage"},
    "xOffset": {"field": "from", "type": "nominal"},
    "y": {"field": "level", "type": "quantitative", "title": "Active GLP1 [pg/ml]"}
   }},
  {"data": {"name": "fBracket"}, "mark": {"type": "tick", "orient": "vertical", "size": 11, "thickness": 2, "color": "#231f20"},
   "encoding": {
    "x": {"field": "time", "type": "nominal", "title": "Minutes following gavage"},
    "xOffset": {"field": "to", "type": "nominal"},
    "y": {"field": "level", "type": "quantitative", "title": "Active GLP1 [pg/ml]"}
   }},
  {"data": {"name": "fBracket"}, "mark": {"type": "text", "fontSize": 18, "baseline": "alphabetic", "dy": -2, "color": "#231f20"},
   "encoding": {
    "x": {"field": "time", "type": "nominal", "bandPosition": 0.6845, "title": "Minutes following gavage"},
    "y": {"field": "level", "type": "quantitative", "title": "Active GLP1 [pg/ml]"},
    "text": {"field": "label"}
   }}
 ]},
{"width": 137, "height": 1, "data": {"values": []}, "mark": {"type": "point", "opacity": 0}},
{"width": 237, "height": 222, "title": {"text": "G", "dx": -88, "dy": 28}, "data": {"name": "ghrelin"},
 "layer": [
  {"transform": [{"filter": "datum.group !== 'H-Sham'"}], "mark": {"type": "bar", "stroke": "#231f20", "strokeWidth": 2},
   "encoding": {
    "x": {"field": "cat", "type": "nominal", "title": "Total", "scale": {"domain": ["Acyl","0","15"], "paddingInner": 0.268, "paddingOuter": 0.15}, "axis": {"labelAngle": 0, "ticks": false, "tickSize": 0, "labelPadding": 5, "titleX": 163, "titleY": 41, "titleBaseline": "alphabetic"}},
    "xOffset": {"field": "group", "type": "nominal", "scale": {"domain": ["C-Sham","H-Sham","H-VSG"], "paddingInner": 0.26, "paddingOuter": 0}},
    "y": {"field": "mean", "type": "quantitative", "title": "Ghrelin [pg/ml]", "scale": {"domain": [0, 2593], "nice": false}, "axis": {"values": [0,500,1000,1500,2000,2500], "format": "d", "labelOverlap": false}},
    "color": {"field": "group", "type": "nominal", "scale": {"domain": ["C-Sham","H-Sham","H-VSG"], "range": ["#231f20","#ffffff","#a6553b"]},
     "legend": {"title": null, "orient": "none", "legendX": 13.5, "legendY": -20, "labelOffset": 8.5, "rowPadding": 0.4, "symbolSize": 400, "symbolType": "M-1.35,-0.65H1.35V0.65H-1.35Z", "symbolStrokeColor": "#231f20", "symbolStrokeWidth": 2,
      "encode": {"symbols": {"update": {
        "fill": {"signal": "datum.index===1 ? {gradient: 'linear', x1: 0, y1: 1, x2: 4.811, y2: -1.316, stops: hatchBlack} : datum.index===2 ? '#a6553b' : '#231f20'"},
        "stroke": {"value": "#231f20"}, "strokeWidth": {"value": 2}, "opacity": {"value": 1}}}}}}
   }},
  {"transform": [{"filter": "datum.group === 'H-Sham'"}], "mark": {"type": "bar", "stroke": "#231f20", "strokeWidth": 2,
     "fill": {"expr": "{gradient: 'linear', x1: 0, y1: 1, x2: 2472 / (238.7 + pow(datum.mean * 0.08562, 2)), y2: 1 - 13.7 * datum.mean / (238.7 + pow(datum.mean * 0.08562, 2)), stops: hatchBlack}"}},
   "encoding": {
    "x": {"field": "cat", "type": "nominal", "title": "Total"},
    "xOffset": {"field": "group", "type": "nominal"},
    "y": {"field": "mean", "type": "quantitative", "title": "Ghrelin [pg/ml]"}
   }},
  {"mark": {"type": "rule", "strokeWidth": 2, "color": "#231f20"},
   "encoding": {
    "x": {"field": "cat", "type": "nominal", "title": "Total"},
    "xOffset": {"field": "group", "type": "nominal"},
    "y": {"field": "mean", "type": "quantitative", "title": "Ghrelin [pg/ml]"},
    "y2": {"field": "hi"}
   }},
  {"mark": {"type": "tick", "orient": "horizontal", "size": 11, "thickness": 2, "color": "#231f20"},
   "encoding": {
    "x": {"field": "cat", "type": "nominal", "title": "Total"},
    "xOffset": {"field": "group", "type": "nominal"},
    "y": {"field": "hi", "type": "quantitative", "title": "Ghrelin [pg/ml]"}
   }},
  {"transform": [{"filter": "isValid(datum.star)"}], "mark": {"type": "text", "fontSize": 18, "baseline": "alphabetic", "dy": 0, "color": "#231f20"},
   "encoding": {
    "x": {"field": "cat", "type": "nominal", "title": "Total"},
    "xOffset": {"field": "group", "type": "nominal"},
    "y": {"field": "hi", "type": "quantitative", "title": "Ghrelin [pg/ml]"},
    "text": {"field": "star"}
   }},
  {"data": {"name": "gBracket"}, "mark": {"type": "tick", "orient": "horizontal", "size": 41.8, "thickness": 2, "color": "#231f20"},
   "encoding": {
    "x": {"field": "cat", "type": "nominal", "title": "Total"},
    "xOffset": {"field": "mid", "type": "nominal"},
    "y": {"field": "level", "type": "quantitative", "title": "Ghrelin [pg/ml]"}
   }},
  {"data": {"name": "gBracket"}, "mark": {"type": "tick", "orient": "vertical", "size": 10, "thickness": 2, "color": "#231f20"},
   "encoding": {
    "x": {"field": "cat", "type": "nominal", "title": "Total"},
    "xOffset": {"field": "from", "type": "nominal"},
    "y": {"field": "level", "type": "quantitative", "title": "Ghrelin [pg/ml]"}
   }},
  {"data": {"name": "gBracket"}, "mark": {"type": "tick", "orient": "vertical", "size": 10, "thickness": 2, "color": "#231f20"},
   "encoding": {
    "x": {"field": "cat", "type": "nominal", "title": "Total"},
    "xOffset": {"field": "to", "type": "nominal"},
    "y": {"field": "level", "type": "quantitative", "title": "Ghrelin [pg/ml]"}
   }},
  {"data": {"name": "gBracket"}, "mark": {"type": "text", "fontSize": 18, "baseline": "alphabetic", "dy": 0, "color": "#231f20"},
   "encoding": {
    "x": {"field": "cat", "type": "nominal", "title": "Total"},
    "xOffset": {"field": "mid", "type": "nominal"},
    "y": {"field": "level", "type": "quantitative", "title": "Ghrelin [pg/ml]"},
    "text": {"field": "label"}
   }},
  {"data": {"name": "gBracket"}, "mark": {"type": "rule", "strokeWidth": 2, "color": "#231f20"},
   "encoding": {
    "x": {"datum": "0", "type": "nominal", "bandPosition": 0, "title": "Total"},
    "x2": {"datum": "15", "bandPosition": 1},
    "y": {"datum": -269, "type": "quantitative", "title": "Ghrelin [pg/ml]"}
   }},
  {"data": {"name": "gBracket"}, "mark": {"type": "rule", "strokeWidth": 2, "color": "#231f20"},
   "encoding": {
    "x": {"datum": "0", "type": "nominal", "bandPosition": 0, "title": "Total"},
    "y": {"datum": -269, "type": "quantitative", "title": "Ghrelin [pg/ml]"},
    "y2": {"datum": -210}
   }},
  {"data": {"name": "gBracket"}, "mark": {"type": "rule", "strokeWidth": 2, "color": "#231f20"},
   "encoding": {
    "x": {"datum": "15", "type": "nominal", "bandPosition": 1, "title": "Total"},
    "y": {"datum": -269, "type": "quantitative", "title": "Ghrelin [pg/ml]"},
    "y2": {"datum": -210}
   }}
 ]}
]}
],
"config": {
 "view": {"stroke": null},
 "font": "Liberation Sans",
 "title": {"anchor": "start", "frame": "group", "fontSize": 18, "fontWeight": "bold", "color": "#231f20", "font": "Liberation Sans", "baseline": "alphabetic", "offset": 0},
 "axis": {"domainColor": "#231f20", "domainWidth": 2, "tickColor": "#231f20", "tickWidth": 2, "tickSize": 6, "labelFont": "Liberation Sans", "labelFontSize": 16, "labelFontWeight": "bold", "labelColor": "#231f20", "titleFont": "Liberation Sans", "titleFontSize": 17, "titleFontWeight": "bold", "titleColor": "#231f20", "grid": false, "labelFlush": false, "labelOverlap": false},
 "axisX": {"labelPadding": 8, "titlePadding": 5},
 "axisY": {"labelPadding": 2, "titlePadding": 10},
 "legend": {"labelFont": "Liberation Sans", "labelFontSize": 16, "labelFontWeight": "bold", "labelColor": "#231f20", "symbolOpacity": 1, "direction": "vertical"}
}
}
